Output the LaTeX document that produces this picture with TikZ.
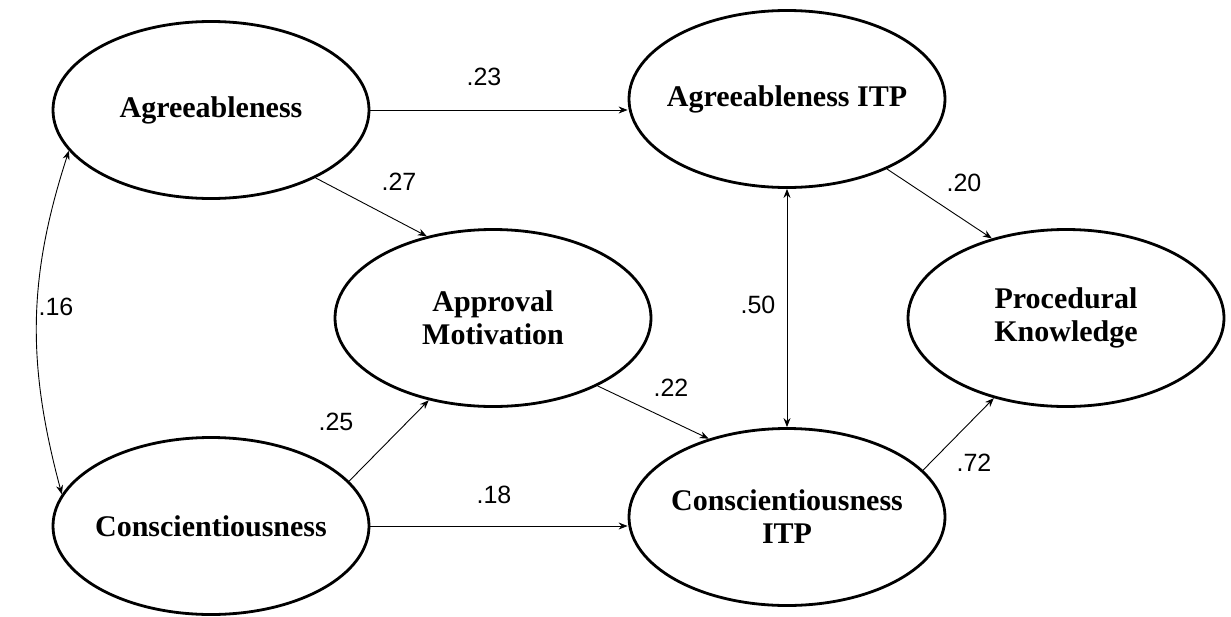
\documentclass[tikz,border=0pt]{standalone}
\usepackage{fontspec}
\setmainfont{Liberation Serif}
\newfontfamily\numfont{Liberation Sans}
\usetikzlibrary{shapes.geometric,arrows.meta}
\begin{document}
\begin{tikzpicture}[x=1pt,y=-1pt,
  lat/.style={ellipse, draw, line width=2.8pt, minimum width=316pt, minimum height=177pt, inner sep=0pt},
  txt/.style={inner sep=0pt, align=center, font=\fontsize{30}{33}\selectfont\bfseries},
  pth/.style={line width=0.9pt, -{Stealth[length=9pt,width=7pt]}},
  cov/.style={line width=0.9pt, {Stealth[length=9pt,width=7pt]}-{Stealth[length=9pt,width=7pt]}},
  coef/.style={font=\fontsize{25}{28}\selectfont\numfont, inner sep=0pt}]
\useasboundingbox (0,0) rectangle (1231,616);
\node[lat] (A) at (211,110) {};
\node[lat] (AITP) at (787,99) {};
\node[lat] (AM) at (493,318) {};
\node[lat] (PK) at (1066,318) {};
\node[lat] (C) at (211,526) {};
\node[lat] (CITP) at (787,517) {};
\node[txt] (At) at (A) {Agreeableness};
\node[txt] (AITPt) at (AITP) {Agreeableness ITP};
\node[txt] (AMt) at (AM) {Approval\\Motivation};
\node[txt] (PKt) at (PK) {Procedural\\Knowledge};
\node[txt] (Ct) at (C) {Conscientiousness};
\node[txt] (CITPt) at (CITP) {Conscientiousness\\ITP};
\draw[pth] (A.east) -- (A.east -| AITP.west);
\draw[pth] (A.-33) -- (AM.129);
\draw[pth] (C.18) -- (AM.232);
\draw[pth] (C.east) -- (C.east -| CITP.west);
\draw[pth] (AM.-33) -- (CITP.135);
\draw[pth] (AITP.-35) -- (PK.133);
\draw[pth] (CITP.19) -- (PK.228);
\draw[cov] (AITP.south) -- (CITP.north);
\draw[cov] (A.196) to[out=252,in=105] (C.168);
\node[coef] (l23) at (484,77) {.23};
\node[coef] (l27) at (399,182) {.27};
\node[coef] (l16) at (56,307) {.16};
\node[coef] (l25) at (336,422) {.25};
\node[coef] (l18) at (494,495) {.18};
\node[coef] (l22) at (671,388) {.22};
\node[coef] (l50) at (758,305) {.50};
\node[coef] (l20) at (964,183) {.20};
\node[coef] (l72) at (974,463) {.72};
\end{tikzpicture}
\end{document}
